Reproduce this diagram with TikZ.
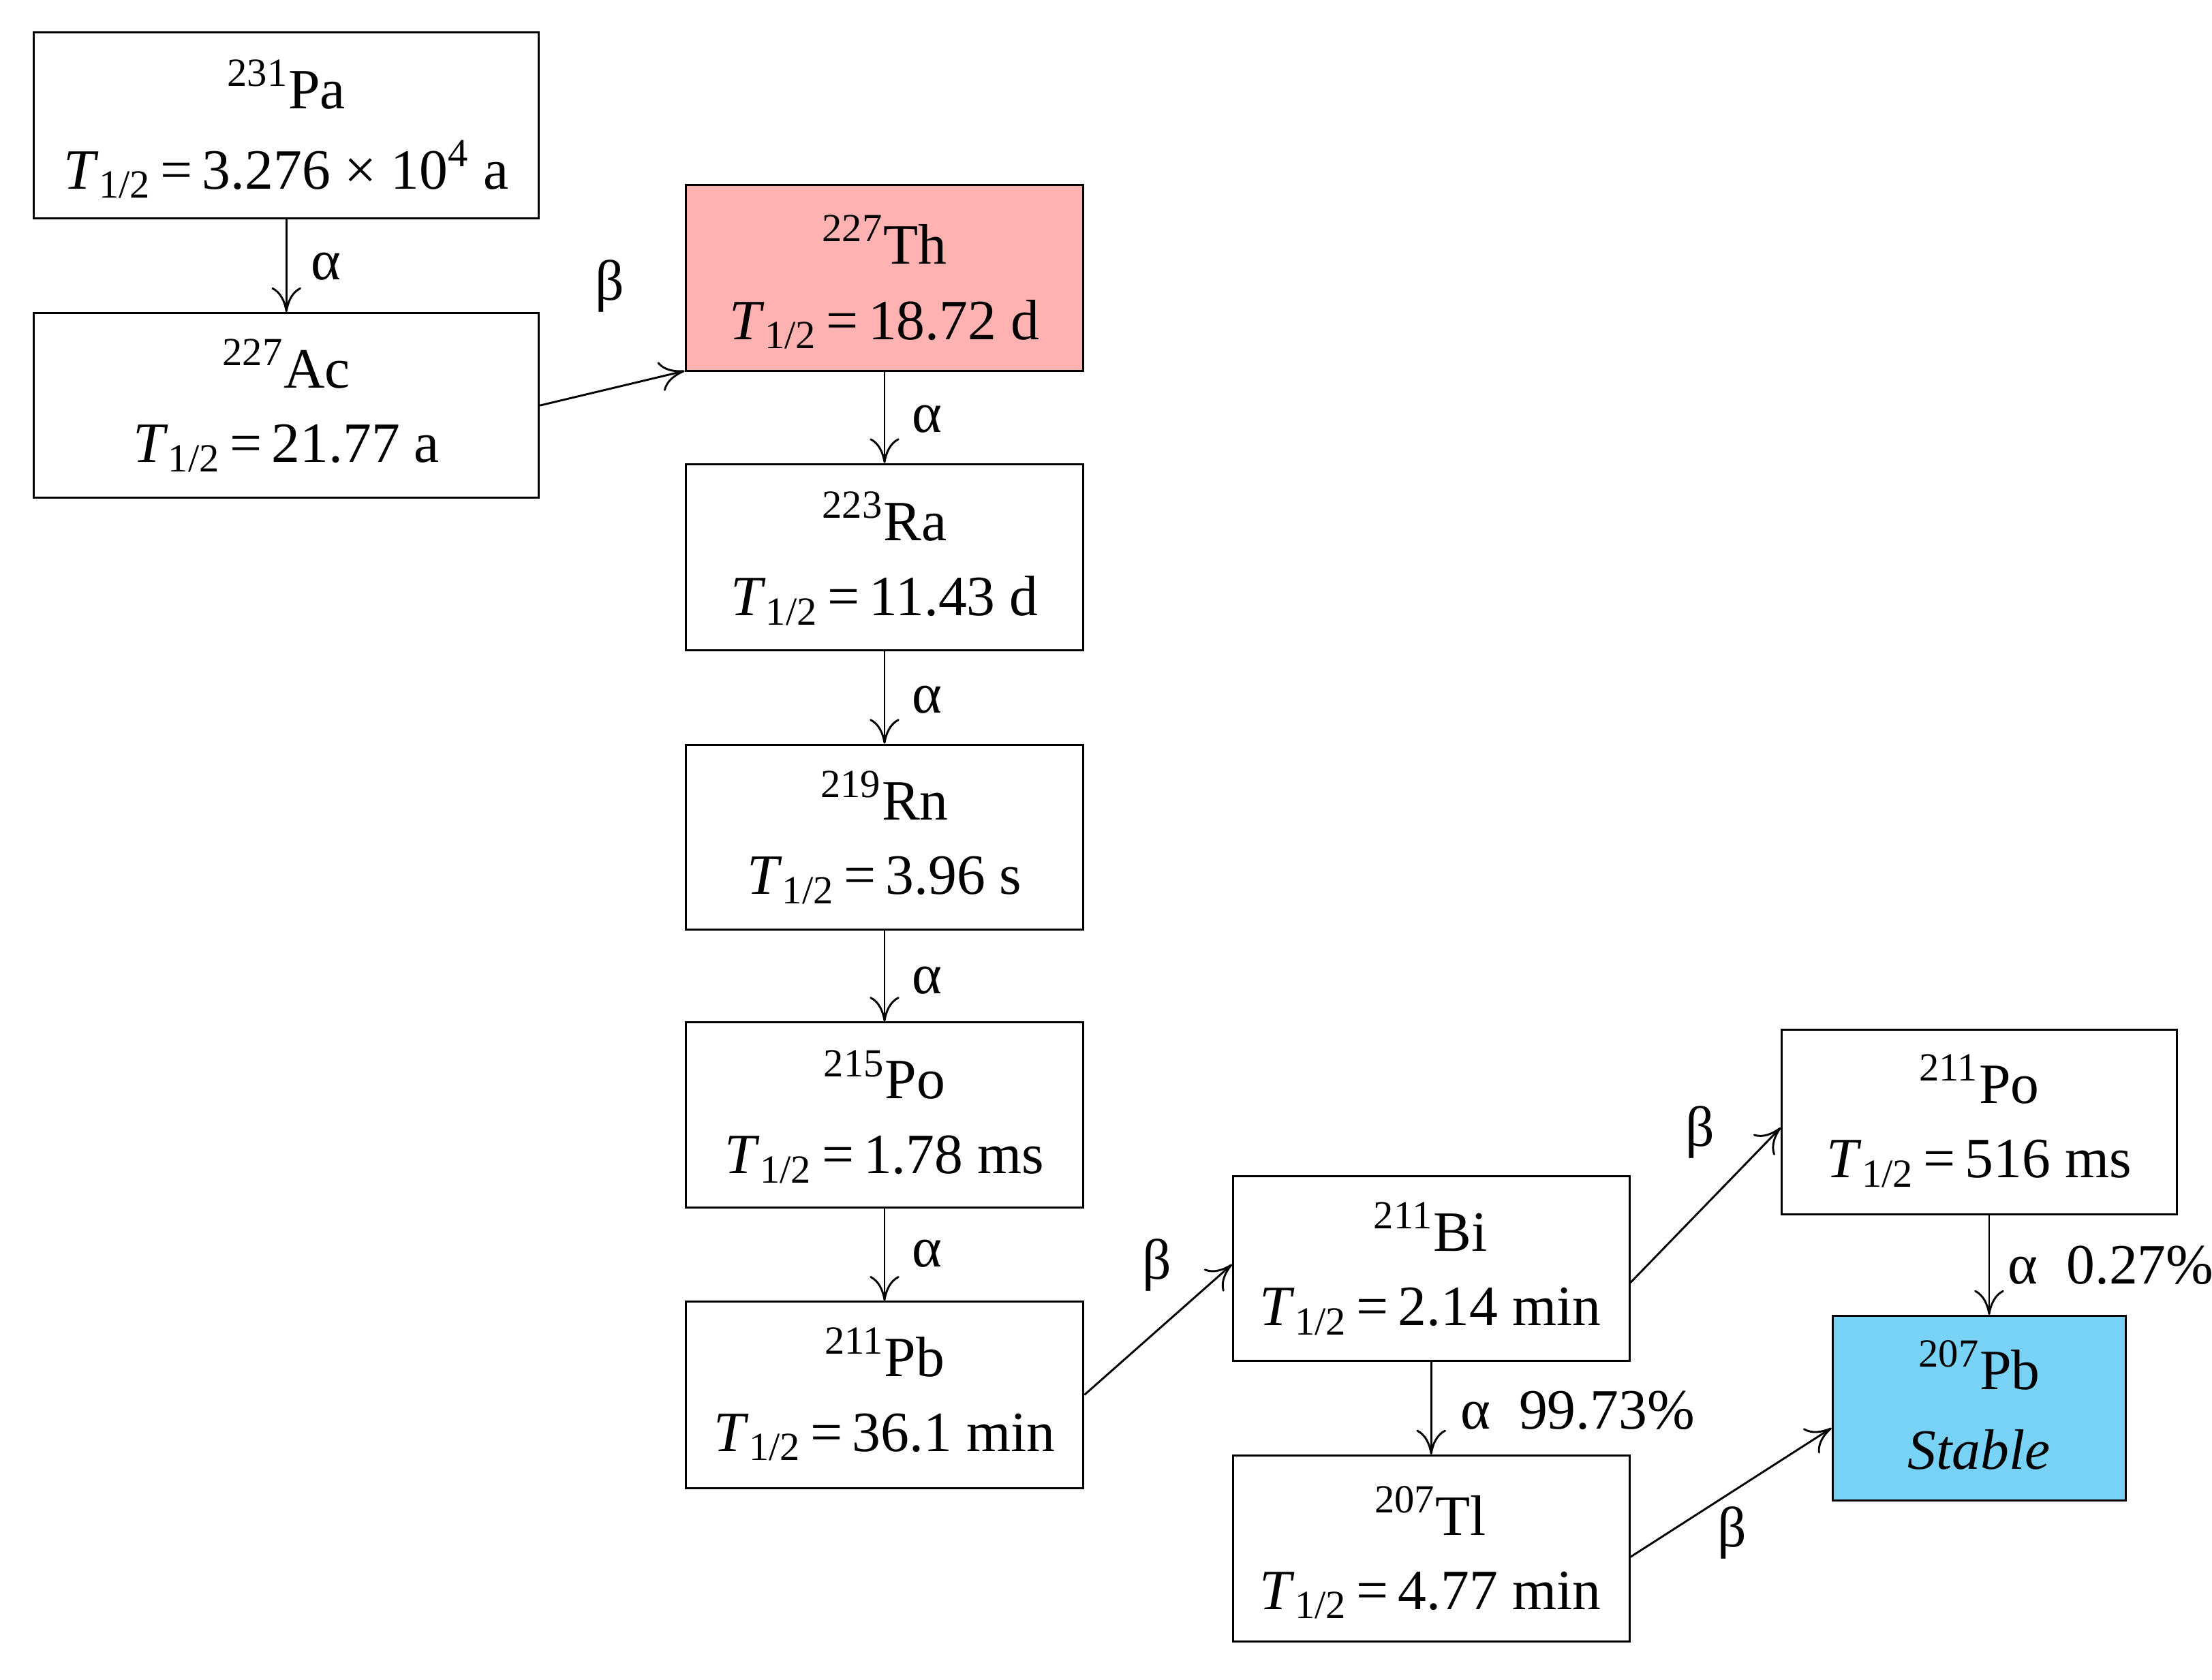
\documentclass[tikz,border=0pt]{standalone}
\usepackage{fontspec}
\setmainfont{Liberation Serif}
\usetikzlibrary{arrows.meta}
\definecolor{pinkbox}{RGB}{255,178,178}
\definecolor{bluebox}{RGB}{120,210,245}
\begin{document}
\begin{tikzpicture}[x=0.02cm,y=-0.02cm,
  box/.style={draw,line width=0.8pt,align=center,inner sep=0pt},
  arr/.style={draw,line width=0.8pt,-{To[length=10pt,width=12pt]}},
  lab/.style={font=\fontsize{23}{28}\selectfont,inner sep=0pt}]
\useasboundingbox (0,0) rectangle (1568,1191);
\newcommand{\Th}{\textit{T}\textsubscript{1/2}}
\newcommand{\mybox}[6]{\node[box,minimum width={(#4-#2)*0.02cm},minimum height={(#5-#3)*0.02cm},#6] (#1) at ({(#2+#4)/2},{(#3+#5)/2}) {};}
\mybox{pa}{24}{23}{382}{155}{}
\mybox{ac}{24}{222}{382}{353}{}
\mybox{th}{486}{131}{768}{263}{fill=pinkbox}
\mybox{ra}{486}{329}{768}{461}{}
\mybox{rn}{486}{528}{768}{659}{}
\mybox{poa}{486}{725}{768}{856}{}
\mybox{pbb}{486}{923}{768}{1055}{}
\mybox{bi}{874}{834}{1155}{965}{}
\mybox{pob}{1263}{730}{1543}{861}{}
\mybox{tl}{874}{1032}{1155}{1164}{}
\mybox{pbs}{1299}{933}{1507}{1064}{fill=bluebox}
\newcommand{\two}[5]{\node[lab] (#1a) at (#2,#3) {#4}; \node[lab] (#1b) at (#2,{#3+60}) {#5};}
\two{tpa}{203}{60}{\textsuperscript{231}Pa}{\Th\,=\,3.276 × 10\textsuperscript{4} a}
\two{tac}{203}{258}{\textsuperscript{227}Ac}{\Th\,=\,21.77 a}
\two{tth}{627}{170}{\textsuperscript{227}Th}{\Th\,=\,18.72 d}
\two{tra}{627}{366}{\textsuperscript{223}Ra}{\Th\,=\,11.43 d}
\two{trn}{627}{564}{\textsuperscript{219}Rn}{\Th\,=\,3.96 s}
\two{tpoa}{627}{762}{\textsuperscript{215}Po}{\Th\,=\,1.78 ms}
\two{tpbb}{627}{959}{\textsuperscript{211}Pb}{\Th\,=\,36.1 min}
\two{tbi}{1014}{870}{\textsuperscript{211}Bi}{\Th\,=\,2.14 min}
\two{tpob}{1403}{765}{\textsuperscript{211}Po}{\Th\,=\,516 ms}
\two{ttl}{1014}{1071}{\textsuperscript{207}Tl}{\Th\,=\,4.77 min}
\two{tpbs}{1403}{968}{\textsuperscript{207}Pb}{\textit{Stable}}
\draw[arr] (pa) -- (ac);
\draw[arr] (ac.east) -- ([yshift=-0.02cm*66]th.west);
\draw[arr] (th) -- (ra);
\draw[arr] (ra) -- (rn);
\draw[arr] (rn) -- (poa);
\draw[arr] (poa) -- (pbb);
\draw[arr] (pbb.east) -- ([yshift=0.02cm*3]bi.west);
\draw[arr] ([yshift=-0.02cm*10]bi.east) -- ([yshift=0.02cm*-4]pob.west);
\draw[arr] (bi.south) -- (tl.north);
\draw[arr] ([xshift=4pt]pob.south) coordinate (c2) (c2) -- (c2 |- pbs.north);
\draw[arr] ([yshift=-0.02cm*6]tl.east) -- ([yshift=-0.02cm*14]pbs.west);
\node[lab] (l1) at (231,189) {α};
\node[lab] (l2) at (432,203) {β};
\node[lab] (l3) at (657,297) {α};
\node[lab] (l4) at (657,496) {α};
\node[lab] (l5) at (657,695) {α};
\node[lab] (l6) at (657,889) {α};
\node[lab] (l7) at (820,897) {β};
\node[lab] (l8) at (1205,803) {β};
\node[lab,anchor=west] (l9) at (1423,897) {α\ \ 0.27\%};
\node[lab,anchor=west] (l10) at (1035,1000) {α\ \ 99.73\%};
\node[lab] (l11) at (1228,1087) {β};
\end{tikzpicture}
\end{document}
